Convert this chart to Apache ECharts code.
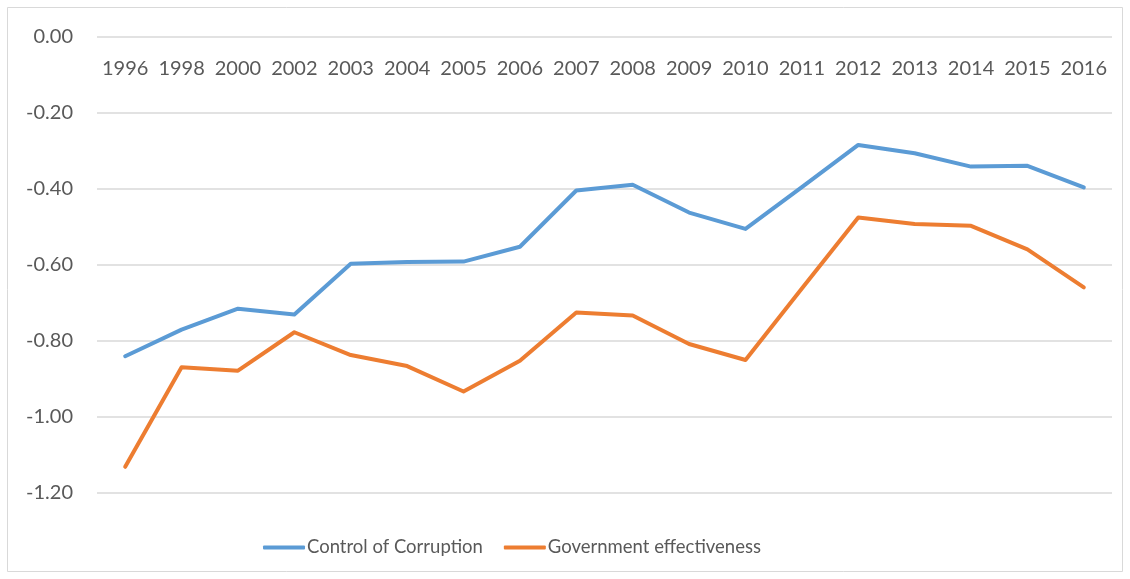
<!DOCTYPE html>
<html>
<head>
<meta charset="utf-8">
<script src="https://cdn.jsdelivr.net/npm/echarts@6/dist/echarts.min.js"></script>
<style>
html,body{margin:0;padding:0;background:#fff;}
#chart{width:1130px;height:579px;}
</style>
</head>
<body>
<div id="chart"></div>
<script>
var years = ['1996','1998','2000','2002','2003','2004','2005','2006','2007','2008','2009','2010','2011','2012','2013','2014','2015','2016'];
var controlOfCorruption = [-0.84,-0.77,-0.715,-0.73,-0.597,-0.592,-0.591,-0.552,-0.404,-0.389,-0.462,-0.505,-0.395,-0.284,-0.306,-0.341,-0.339,-0.396];
var governmentEffectiveness = [-1.131,-0.869,-0.878,-0.777,-0.837,-0.866,-0.933,-0.852,-0.725,-0.733,-0.808,-0.850,-0.662,-0.475,-0.492,-0.497,-0.559,-0.659];
var seriesNames = ['Control of Corruption','Government effectiveness'];

var chart = echarts.init(document.getElementById('chart'), null, {renderer:'canvas'});
var font = 'Lato, "Open Sans", sans-serif';
chart.setOption({
  animation:false,
  backgroundColor:'#ffffff',
  graphic:[{type:'rect',shape:{x:7.5,y:7.5,width:1115,height:564},style:{fill:'none',stroke:'#d9d9d9',lineWidth:1}}],
  grid:{left:97,right:18,top:37,bottom:86,containLabel:false},
  xAxis:{
    type:'category',
    data:years,
    position:'top',
    boundaryGap:true,
    axisLine:{show:false},
    axisTick:{show:false},
    axisLabel:{inside:true,margin:22,color:'#595959',fontSize:20,fontFamily:font,interval:0}
  },
  yAxis:{
    type:'value',
    min:-1.2,max:0,interval:0.2,
    axisLine:{show:false},
    axisTick:{show:false},
    splitLine:{lineStyle:{color:'#d9d9d9',width:1.5}},
    axisLabel:{color:'#595959',fontSize:20,fontFamily:font,margin:24,formatter:function(v){return v.toFixed(2);}}
  },
  legend:{
    data:seriesNames,
    left:258,top:533,
    icon:'roundRect',
    itemWidth:42,itemHeight:4,itemGap:21,
    textStyle:{color:'#595959',fontSize:18.5,fontFamily:font,padding:[0,0,0,-3]}
  },
  series:[
    {name:seriesNames[0],type:'line',data:controlOfCorruption,symbol:'none',color:'#5B9BD5',lineStyle:{width:4,cap:'round',join:'round'}},
    {name:seriesNames[1],type:'line',data:governmentEffectiveness,symbol:'none',color:'#ED7D31',lineStyle:{width:4,cap:'round',join:'round'}}
  ]
});
</script>
</body>
</html>
